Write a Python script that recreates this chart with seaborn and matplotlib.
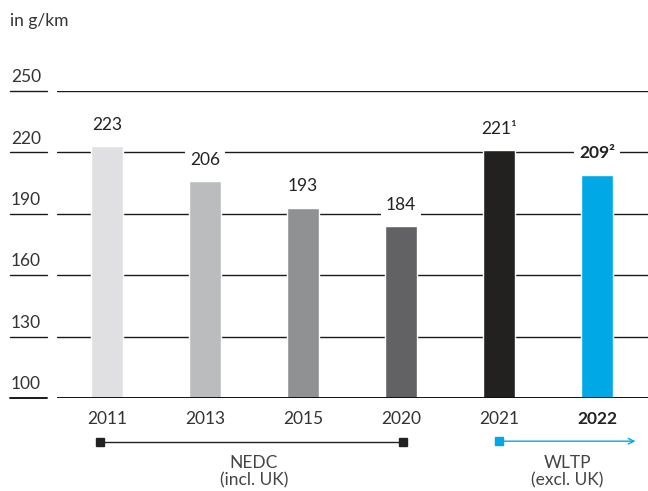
import matplotlib
matplotlib.use("Agg")
import matplotlib.pyplot as plt
import matplotlib.transforms as mtransforms
import seaborn as sns
import pandas as pd

years = ["2011", "2013", "2015", "2020", "2021", "2022"]
values = [223, 206, 193, 184, 221, 209]
value_labels = ["223", "206", "193", "184", "221¹", "209²"]
colors = ["#e0e0e2", "#bbbcbe", "#8f9193", "#626264", "#222120", "#00a8e6"]
yticks = [100, 130, 160, 190, 220, 250]

sns.set_style("white")
plt.rcParams["font.family"] = ["Lato", "DejaVu Sans"]

FS = 12.5
df = pd.DataFrame({"year": years, "value": values})

fig = plt.figure(figsize=(6.48, 4.91), dpi=100)
ax = fig.add_axes([57 / 648, 1 - 398 / 491, 1 - 57 / 648, (398 - 91) / 491])

for t in yticks[1:]:
    ax.axhline(t, color="#1a1a1a", lw=1.0, zorder=1)

sns.barplot(data=df, x="year", y="value", hue="year", palette=colors,
            width=0.33, legend=False, ax=ax, zorder=2, saturation=1)
ax.axhline(100, color="#111111", lw=1.4, zorder=4)

ax.set_ylim(100, 250)
ax.set_xlim(-0.51, 5.52)
ax.set_xlabel("")
ax.set_ylabel("")
ax.set_xticks([])
ax.set_yticks([])
for s in ax.spines.values():
    s.set_visible(False)

# left short segments & tick labels
tr = mtransforms.blended_transform_factory(fig.transFigure, ax.transData)
for t in yticks:
    ax.plot([10 / 648, 47 / 648], [t, t], transform=tr, color="#1a1a1a",
            lw=1.4 if t == 100 else 1.0, clip_on=False)
    ax.text(11 / 648, t + 2.8, str(t), transform=tr, ha="left", va="bottom",
            fontsize=FS, color="#333333")

# value labels
for i, (v, lab) in enumerate(zip(values, value_labels)):
    bold = i == 5
    ax.text(i, v + 10.5, lab, ha="center", va="center", fontsize=FS,
            color="#222222", fontweight="bold" if bold else "normal", zorder=5,
            bbox=dict(boxstyle="square,pad=0.3", fc="white", ec="none"))

# year labels
for i, y in enumerate(years):
    ax.text(i, 89.5, y, ha="center", va="center", fontsize=FS,
            color="#333333" if i < 5 else "#222222",
            fontweight="bold" if i == 5 else "normal", clip_on=False)

# NEDC bracket
yb = 78.6
ax.plot([-0.07, 3.02], [yb, yb], color="#222222", lw=1.0, clip_on=False)
ax.plot([-0.07, 3.02], [yb, yb], ls="none", marker="s", ms=6,
        color="#222222", clip_on=False)
ax.text(1.5, 64.0, "NEDC\n(incl. UK)", ha="center", va="center", fontsize=FS,
        color="#444444", linespacing=1.1, clip_on=False)

# WLTP arrow
ax.plot([4.0], [yb + 0.3], ls="none", marker="s", ms=6, color="#00a8e6",
        clip_on=False)
ax.annotate("", xy=(5.42, yb + 0.3), xytext=(4.0, yb + 0.3),
            arrowprops=dict(arrowstyle="->", color="#00a8e6", lw=1.0),
            annotation_clip=False)
ax.text(4.7, 64.0, "WLTP\n(excl. UK)", ha="center", va="center", fontsize=FS,
        color="#444444", linespacing=1.1, clip_on=False)

fig.text(10 / 648, 1 - 21 / 491, "in g/km", ha="left", va="center",
         fontsize=FS, color="#333333")

fig.savefig("out.png", dpi=100)
